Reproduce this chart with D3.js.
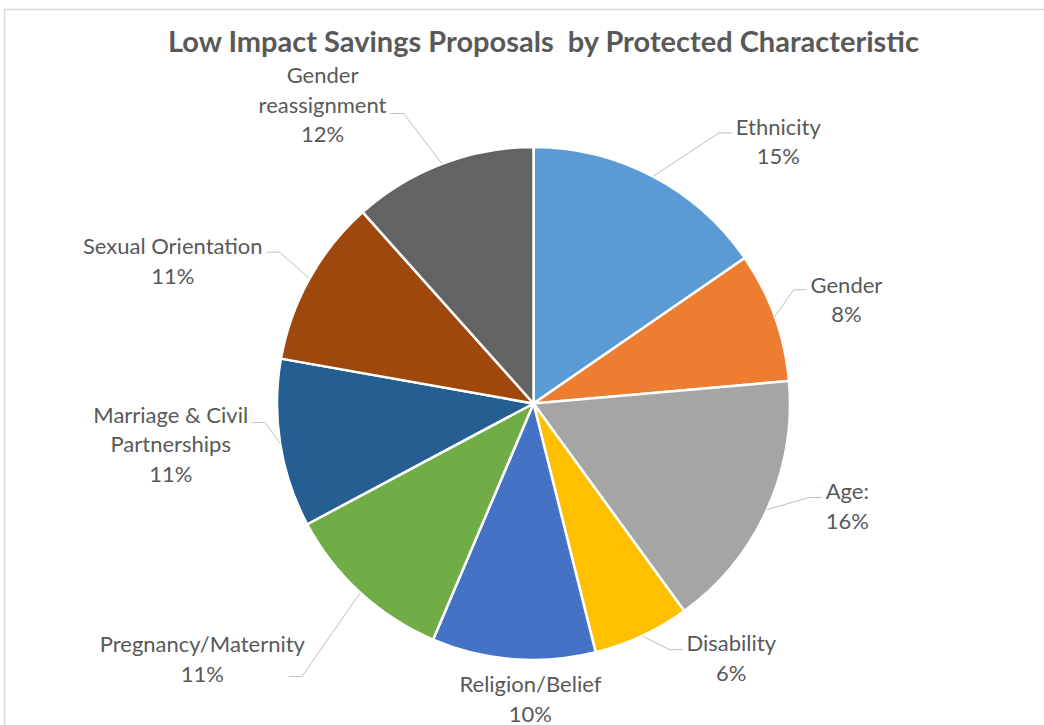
<!DOCTYPE html>
<html>
<head>
<meta charset="utf-8">
<script src="https://cdn.jsdelivr.net/npm/d3@7"></script>
<style>
  html, body { margin: 0; padding: 0; background: #fff; }
  #dataViz { width: 1044px; height: 725px; }
  text { font-family: Lato, "Open Sans", sans-serif; fill: #595959; }
</style>
</head>
<body>
<div id="dataViz"></div>
<script>
// Data (share of proposals, %)
const categories = ["Ethnicity", "Gender", "Age:", "Disability", "Religion/Belief",
  "Pregnancy/Maternity", "Marriage & Civil\nPartnerships", "Sexual Orientation", "Gender\nreassignment"];
const values = [15.4, 8.2, 16.4, 6.1, 10.3, 10.8, 10.6, 10.6, 11.6];
const colours = ["#5B9BD5", "#ED7D31", "#A5A5A5", "#FFC000", "#4472C4",
  "#70AD47", "#255E91", "#9E480E", "#636363"];

// Label placement (polar, from pie centre: degrees clockwise from 12 o'clock, px)
const labelAngle = [43.0, 71.5, 108, 142.1, 180.6, 232.4, 263.7, 291.6, 324.8];
const labelDist = [359, 330, 330, 322, 295, 418, 365, 388, 366];
const hookDy = [-8, -9, -8, -8, null, 18, -21, -8.5, 9];
const hookGap = [4, 4, 4, 4, 4, -16, 4, 4, 4];

const width = 1044, height = 725;
const cx = 533.5, cy = 403.5, radius = 256.5;
const lineH = 29.5;

const svg = d3.select("#dataViz").append("svg")
  .attr("width", width).attr("height", height);

// chart area border (runs off the right/bottom of the picture)
svg.append("rect")
  .attr("x", 4.5).attr("y", 9.5)
  .attr("width", 1200).attr("height", 900)
  .attr("fill", "none").attr("stroke", "#D9D9D9").attr("stroke-width", 1.5);

svg.append("text")
  .attr("x", 543.5).attr("y", 52)
  .attr("text-anchor", "middle")
  .style("font-size", "29px").style("font-weight", "bold")
  .style("white-space", "pre")
  .text("Low Impact Savings Proposals  by Protected Characteristic");

const total = d3.sum(values);
const data = categories.map((c, i) => ({ name: c, value: values[i], i }));

const pie = d3.pie().sort(null).value(d => d.value);
const arcs = pie(data);
const arc = d3.arc().innerRadius(0).outerRadius(radius);

const g = svg.append("g").attr("transform", `translate(${cx},${cy})`);

g.selectAll("path.slice")
  .data(arcs)
  .enter()
  .append("path")
  .attr("class", "slice")
  .attr("d", arc)
  .attr("fill", d => colours[d.data.i])
  .attr("stroke", "#fff")
  .attr("stroke-width", 2.5)
  .attr("stroke-linejoin", "round");

// Labels
const labels = g.selectAll("g.label")
  .data(arcs)
  .enter()
  .append("g")
  .attr("class", "label");

labels.each(function (d) {
  const i = d.data.i;
  const a = labelAngle[i] * Math.PI / 180;
  const lx = labelDist[i] * Math.sin(a);
  const ly = -labelDist[i] * Math.cos(a);
  const lines = d.data.name.split("\n").concat([Math.round(d.value / total * 100) + "%"]);
  const sel = d3.select(this);

  const t = sel.append("text")
    .attr("text-anchor", "middle")
    .style("font-size", "22px");
  lines.forEach((ln, k) => {
    t.append("tspan")
      .attr("x", lx)
      .attr("y", ly + (k - (lines.length - 1) / 2) * lineH)
      .attr("dominant-baseline", "central")
      .text(ln);
  });

  if (hookDy[i] === null) return;
  // leader line: slice edge -> elbow -> label
  const w = d3.max(t.selectAll("tspan").nodes(), n => n.getComputedTextLength());
  const mid = (d.startAngle + d.endAngle) / 2;
  const p0 = [radius * Math.sin(mid), -radius * Math.cos(mid)];
  const side = lx > p0[0] ? -1 : 1;
  const hx = lx + side * (w / 2 + hookGap[i]);
  const hy = ly + hookDy[i];
  const ex = hx + side * 13;
  sel.insert("path", "text")
    .attr("d", d3.line()([p0, [ex, hy], [hx, hy]]))
    .attr("fill", "none")
    .attr("stroke", "#BFBFBF")
    .attr("stroke-width", 1);
});
</script>
</body>
</html>
